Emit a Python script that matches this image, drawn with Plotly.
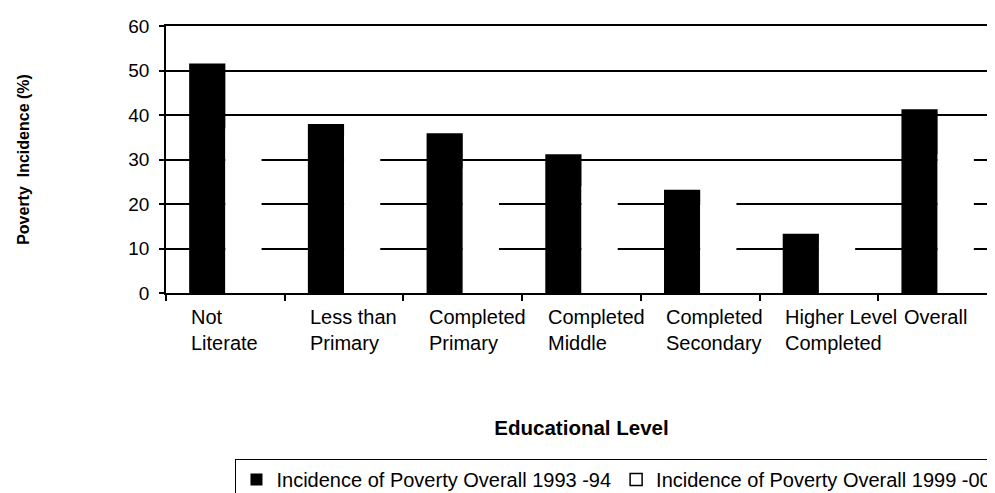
import plotly.graph_objects as go

categories = ["Not Literate", "Less than Primary", "Completed Primary", "Completed Middle",
              "Completed Secondary", "Higher Level Completed", "Overall"]
label_lines = [["Not", "Literate"], ["Less than", "Primary"], ["Completed", "Primary"],
               ["Completed", "Middle"], ["Completed", "Secondary"], ["Higher Level", "Completed"],
               ["Overall", ""]]
inc_1993 = [51.6, 38.0, 35.9, 31.2, 23.2, 13.3, 41.3]
inc_1999 = [37.0, 35.3, 28.0, 24.0, 20.3, 11.0, 31.2]
name_1993 = "Incidence of Poverty Overall 1993 -94"
name_1999 = "Incidence of Poverty Overall 1999 -00"
y_ticks = [0, 10, 20, 30, 40, 50, 60]

FONT = "Liberation Sans, Arial, sans-serif"

fig = go.Figure()
fig.add_trace(go.Bar(x=categories, y=inc_1993, name=name_1993, offsetgroup="a",
                     marker=dict(color="black", line=dict(width=0))))
fig.add_trace(go.Bar(x=categories, y=inc_1999, name=name_1999, showlegend=False, offsetgroup="b",
                     marker=dict(color="white", line=dict(width=0))))
# legend-only entry for the white series (outlined symbol as in the original key)
fig.add_trace(go.Bar(x=[None], y=[None], name=name_1999, offsetgroup="b",
                     marker=dict(color="white", line=dict(color="black", width=1.5))))

annotations = []
for cat, lines in zip(categories, label_lines):
    annotations.append(dict(x=cat, y=0, xref="x", yref="y", xanchor="left", yanchor="top",
                            xshift=-36, yshift=-11, align="left", showarrow=False,
                            text="<br>".join(l for l in lines if l),
                            font=dict(family=FONT, size=20, color="black")))

fig.update_layout(
    width=995, height=493,
    margin=dict(l=158, r=6, t=18, b=208, autoexpand=False),
    paper_bgcolor="white", plot_bgcolor="white",
    barmode="group", bargap=0.39, bargroupgap=0,
    font=dict(family=FONT, color="black"),
    showlegend=True,
    legend=dict(orientation="h", x=0.083, xanchor="left", y=-0.62, yanchor="top",
                bordercolor="black", borderwidth=1.5, bgcolor="white",
                font=dict(family=FONT, size=20, color="black"),
                itemwidth=30, traceorder="normal"),
    annotations=annotations,
)
fig.update_xaxes(showline=True, mirror=True, linecolor="black", linewidth=1.5,
                 showticklabels=False, ticks="outside", tickson="boundaries",
                 ticklen=6, tickcolor="black", tickwidth=1.5, showgrid=False,
                 title=dict(text="<b>Educational Level</b>", standoff=127,
                            font=dict(family=FONT, size=20.5, color="black")))
fig.update_yaxes(range=[0, 60], tickvals=y_ticks, showline=True, linecolor="black",
                 linewidth=1.5, ticks="outside", ticklen=5, tickcolor="black", tickwidth=1.5,
                 showgrid=True, gridcolor="black", gridwidth=1.8, zeroline=False,
                 tickfont=dict(family=FONT, size=19, color="black"), ticklabelstandoff=6,
                 title=dict(text="<b>Poverty  Incidence (%)</b>", standoff=95,
                            font=dict(family=FONT, size=16, color="black")))

fig.write_html("out.html")
